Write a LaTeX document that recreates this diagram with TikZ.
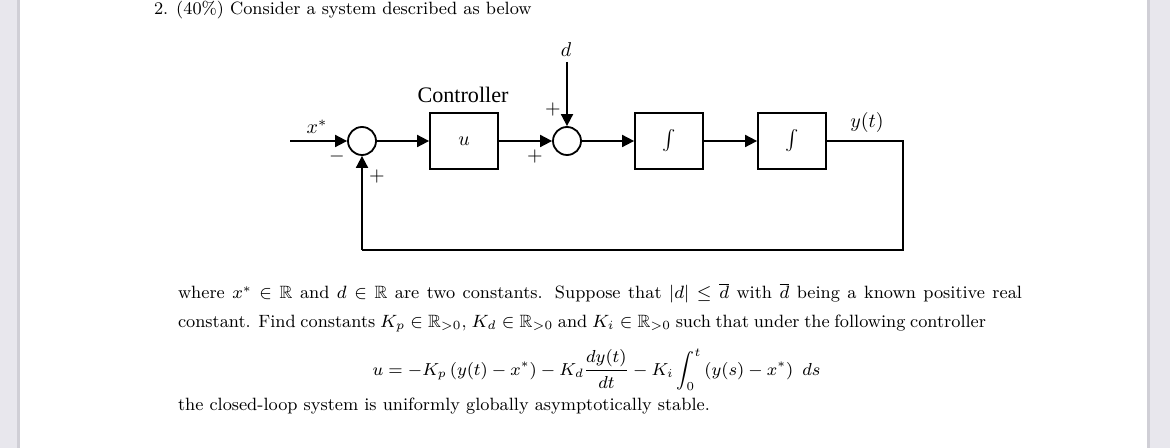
\RequirePackage{fix-cm}
\documentclass[tikz,border=0pt]{standalone}
\usepackage{amsmath,amssymb}
\usepackage{fontspec}
\newfontfamily\ctrlfont{Liberation Serif}
\usetikzlibrary{arrows.meta}
\definecolor{pagegray}{RGB}{232,231,237}
\definecolor{edgegray}{RGB}{208,207,214}
\newcommand\bodyfnt{\fontsize{8.9}{11}\selectfont}
\newcommand\eqfnt{\fontsize{8.7}{11}\selectfont}
\newcommand\diagfnt{\fontsize{10}{12}\selectfont}
\begin{document}
\begin{tikzpicture}[x=0.5pt,y=-0.5pt,
  line/.style={line width=0.9pt},
  arr/.style={line width=0.9pt,-{Triangle[length=6pt,width=6pt]}},
  blockbox/.style={draw,line width=0.9pt,minimum width=34pt,minimum height=28pt,inner sep=0pt,font=\diagfnt},
  sumnode/.style={draw,circle,line width=0.9pt,minimum size=14pt,inner sep=0pt},
  lbl/.style={inner sep=0pt,outer sep=0pt,font=\diagfnt},
  body/.style={inner sep=0pt,outer sep=0pt,anchor=base west,font=\bodyfnt}]
% page background
\useasboundingbox (0,0) rectangle (1170,448);
\fill[pagegray] (0,0) rectangle (1170,448);
\fill[edgegray] (17,0) rectangle (20,448);
\fill[edgegray] (1146,0) rectangle (1150,448);
\fill[white] (20,0) rectangle (1147,448);
% text
\node[body] (title) at (154,15) {2.\hspace{0.45em}(40\%) Consider a system described as below};
\node[body] (l1) at (178,299) {\hbox to 422pt{where $x^*\in\mathbb{R}$ and $d\in\mathbb{R}$ are two constants. Suppose that $|d|\le\overline{d}$ with $\overline{d}$ being a known positive real}};
\node[body] (l2) at (178,327) {\hbox to 404pt{constant. Find constants $K_p\in\mathbb{R}_{>0}$, $K_d\in\mathbb{R}_{>0}$ and $K_i\in\mathbb{R}_{>0}$ such that under the following controller}};
\node[inner sep=0pt,outer sep=0pt,anchor=base,font=\eqfnt] (eq) at (596.5,375) {$\displaystyle u=-K_p\left(y(t)-x^*\right)-K_d\frac{dy(t)}{dt}-K_i\int_0^t\left(y(s)-x^*\right)\ ds$};
\node[body] (l3) at (178,410) {the closed-loop system is uniformly globally asymptotically stable.};
% diagram
\coordinate (in) at (290,141);
\node[sumnode] (s1) at (362,141) {};
\node[blockbox] (ctrl) at (464,141) {$u$};
\node[sumnode] (s2) at (567,141) {};
\node[blockbox] (i1) at (669,141) {$\int$};
\node[blockbox] (i2) at (792,141) {$\int$};
\coordinate (dtop) at (567,62);
\coordinate (c1) at (903,141);
\coordinate (c2) at (903,250);
\coordinate (c3) at (362,250);
\node[lbl] (xs) at (317,127) {$x^*$};
\node[lbl,font=\ctrlfont\fontsize{11.07}{13}\selectfont] (ctrlname) at (463,95) {Controller};
\node[lbl] (dl) at (566,50) {$d$};
\node[lbl] (yl) at (867,123) {$y(t)$};
\node[lbl] (m1) at (337,157) {$-$};
\node[lbl] (p1) at (377,177) {$+$};
\node[lbl] (p2) at (535,157) {$+$};
\node[lbl] (p3) at (553,110) {$+$};
\draw[arr] (in) -- (s1);
\draw[arr] (s1) -- (ctrl);
\draw[arr] (ctrl) -- (s2);
\draw[arr] (dtop) -- (s2);
\draw[arr] (s2) -- (i1);
\draw[arr] (i1) -- (i2);
\draw[line] (i2.east) -- (c1) -- (c2) -- (c3);
\draw[arr] (c3) -- (s1);
\end{tikzpicture}
\end{document}
